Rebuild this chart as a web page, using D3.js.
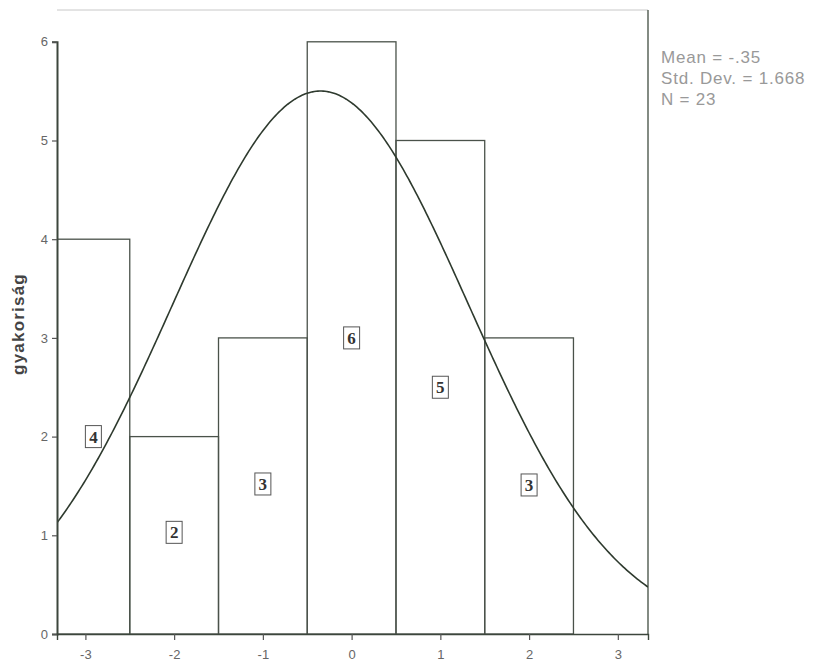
<!DOCTYPE html>
<html>
<head>
<meta charset="utf-8">
<script src="https://cdn.jsdelivr.net/npm/d3@7"></script>
<style>
  body { margin: 0; background: #fff; }
  svg { display: block; }
</style>
</head>
<body>
<svg width="822" height="661"></svg>
<script>
// histogram bins (lower edge, upper edge) and counts
var binStarts = [-3.5, -2.5, -1.5, -0.5, 0.5, 1.5];
var binEnds = [-2.5, -1.5, -0.5, 0.5, 1.5, 2.5];
var counts = [4, 2, 3, 6, 5, 3];
// boxed labels written on the bars: where they sit
var labelX = [-2.91, -2, -1, 0, 1, 2];
var labelY = [2, 1.03, 1.52, 3, 2.5, 1.51];
var xTicks = [-3, -2, -1, 0, 1, 2, 3];
var yTicks = [0, 1, 2, 3, 4, 5, 6];
var stats = ["Mean = -.35", "Std. Dev. = 1.668", "N = 23"];
var mean = -0.35, sd = 1.668, n = 23, binWidth = 1;

var svg = d3.select("svg");
var pLeft = 57, pRight = 648, pTop = 10, pBottom = 634;

var x = d3.scaleLinear().domain([-3.32, 3.34]).range([pLeft, pRight]);
var y = d3.scaleLinear().domain([0, 6]).range([pBottom, pBottom - 6 * 98.7]);

svg.append("defs").append("clipPath").attr("id", "plot")
  .append("rect").attr("x", pLeft).attr("y", pTop)
  .attr("width", pRight - pLeft).attr("height", pBottom - pTop);

// frame: light top edge, darker right edge
svg.append("line").attr("x1", pLeft).attr("x2", pRight).attr("y1", pTop).attr("y2", pTop)
  .attr("stroke", "#c8c8c8").attr("stroke-width", 1);
svg.append("line").attr("x1", pRight).attr("x2", pRight).attr("y1", pTop).attr("y2", pBottom)
  .attr("stroke", "#4f5a4f").attr("stroke-width", 1.4);

var g = svg.append("g").attr("clip-path", "url(#plot)");

g.selectAll("rect.bar")
  .data(counts)
  .enter()
  .append("rect")
  .attr("class", "bar")
  .attr("x", (d, i) => x(binStarts[i]))
  .attr("width", (d, i) => x(binEnds[i]) - x(binStarts[i]))
  .attr("y", (d) => y(d))
  .attr("height", (d) => y(0) - y(d))
  .attr("fill", "none")
  .attr("stroke", "#4a524a")
  .attr("stroke-width", 1.3);

// normal curve scaled to counts
var curveX = d3.range(-3.32, 3.345, 0.02);
var line = d3.line()
  .x((d) => x(d))
  .y((d) => y(n * binWidth / (sd * Math.sqrt(2 * Math.PI)) *
    Math.exp(-0.5 * Math.pow((d - mean) / sd, 2))));
g.append("path")
  .datum(curveX)
  .attr("d", line)
  .attr("fill", "none")
  .attr("stroke", "#2e3a2e")
  .attr("stroke-width", 1.6);

// boxed labels
var lab = svg.selectAll("g.lab")
  .data(counts)
  .enter()
  .append("g")
  .attr("class", "lab")
  .attr("transform", (d, i) => "translate(" + x(labelX[i]) + "," + y(labelY[i]) + ")");
lab.append("rect")
  .attr("x", -8).attr("y", -11).attr("width", 16).attr("height", 22)
  .attr("fill", "#fff").attr("stroke", "#555").attr("stroke-width", 1);
lab.append("text")
  .attr("text-anchor", "middle")
  .attr("dy", "0.36em")
  .attr("font-family", "Liberation Serif, serif")
  .attr("font-weight", "bold")
  .attr("font-size", 17)
  .attr("fill", "#333")
  .text((d) => d);

// axes
var yAxis = svg.append("g")
  .attr("transform", "translate(" + pLeft + ",0)")
  .call(d3.axisLeft(y).tickValues(yTicks).tickSize(5).tickPadding(4)
    .tickFormat((d) => String(d)));
var xAxis = svg.append("g")
  .attr("transform", "translate(0," + pBottom + ")")
  .call(d3.axisBottom(x).tickValues(xTicks).tickSize(6).tickPadding(10)
    .tickFormat((d) => String(d)));

[yAxis, xAxis].forEach(function (a) {
  a.select(".domain").attr("stroke", "#3c463c").attr("stroke-width", 2);
  a.selectAll(".tick line").attr("stroke", "#555").attr("stroke-width", 1.2);
  a.selectAll(".tick text")
    .attr("fill", "#666")
    .attr("font-family", "Liberation Sans, Arial, sans-serif")
    .attr("font-size", 13);
});
xAxis.select(".domain").attr("stroke-width", 1.4);

svg.append("text")
  .attr("transform", "translate(24,324) rotate(-90)")
  .attr("text-anchor", "middle")
  .attr("font-family", "Liberation Sans, Arial, sans-serif")
  .attr("font-weight", "bold")
  .attr("font-size", 17)
  .attr("letter-spacing", 1.2)
  .attr("fill", "#444")
  .text("gyakoriság");

svg.append("g")
  .selectAll("text")
  .data(stats)
  .enter()
  .append("text")
  .attr("x", 661)
  .attr("y", (d, i) => 63 + i * 21)
  .attr("font-family", "Liberation Sans, Arial, sans-serif")
  .attr("font-size", 17)
  .attr("letter-spacing", 0.8)
  .attr("fill", "#999")
  .text((d) => d);
</script>
</body>
</html>
